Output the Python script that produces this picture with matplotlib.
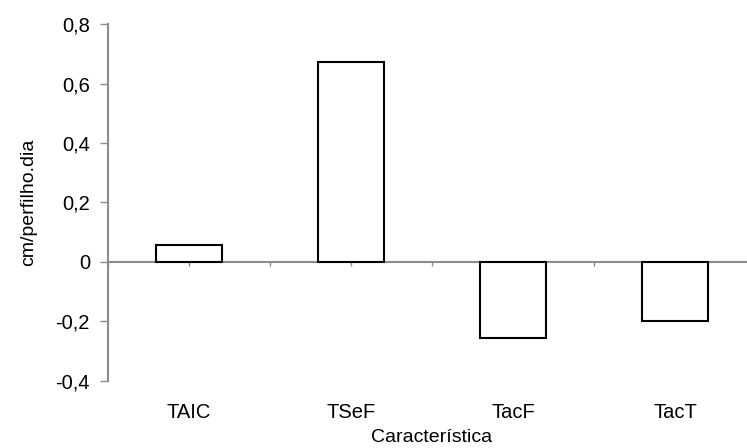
import matplotlib.pyplot as plt
import matplotlib.ticker as mticker

# dados
categorias = ['TAIC', 'TSeF', 'TacF', 'TacT']
valores = [0.057, 0.671, -0.257, -0.200]
y_ticks = [-0.4, -0.2, 0, 0.2, 0.4, 0.6, 0.8]

plt.rcParams['font.family'] = ['Liberation Sans', 'DejaVu Sans']

fig = plt.figure(figsize=(7.47, 4.48), dpi=100)
ax = fig.add_axes([0.1446, 0.1496, 0.8674, 0.7968])

x = range(len(categorias))
ax.bar(x, valores, width=0.41, color='white', edgecolor='black', linewidth=1.5, zorder=3)

ax.set_xlim(-0.5, 3.5)
ax.set_ylim(-0.4, 0.8)
ax.set_yticks(y_ticks)
ax.yaxis.set_major_formatter(mticker.FuncFormatter(
    lambda v, p: '0' if abs(v) < 1e-9 else f'{v:.1f}'.replace('.', ',')))

gray = '#8c8c8c'
for s in ['top', 'right']:
    ax.spines[s].set_visible(False)
ax.spines['left'].set_color(gray)
ax.spines['left'].set_linewidth(1.5)
ax.spines['bottom'].set_position(('data', 0))
ax.spines['bottom'].set_color(gray)
ax.spines['bottom'].set_linewidth(1.5)

ax.tick_params(axis='y', length=6, width=1, color=gray, labelsize=14.5, pad=7)
ax.set_xticks([i * 0.5 - 0.5 for i in range(9)])
ax.set_xticklabels([])
ax.tick_params(axis='x', length=3, width=1, color=gray)

sec = ax.secondary_xaxis(0.0)
sec.set_xticks(list(x))
sec.set_xticklabels(categorias)
sec.tick_params(length=0, labelsize=14.5, pad=16)
sec.spines['bottom'].set_visible(False)
sec.set_xlabel('Característica', fontsize=14, labelpad=5)

ax.set_ylabel('cm/perfilho.dia', fontsize=14, labelpad=13)

fig.savefig('out.png', dpi=100)
